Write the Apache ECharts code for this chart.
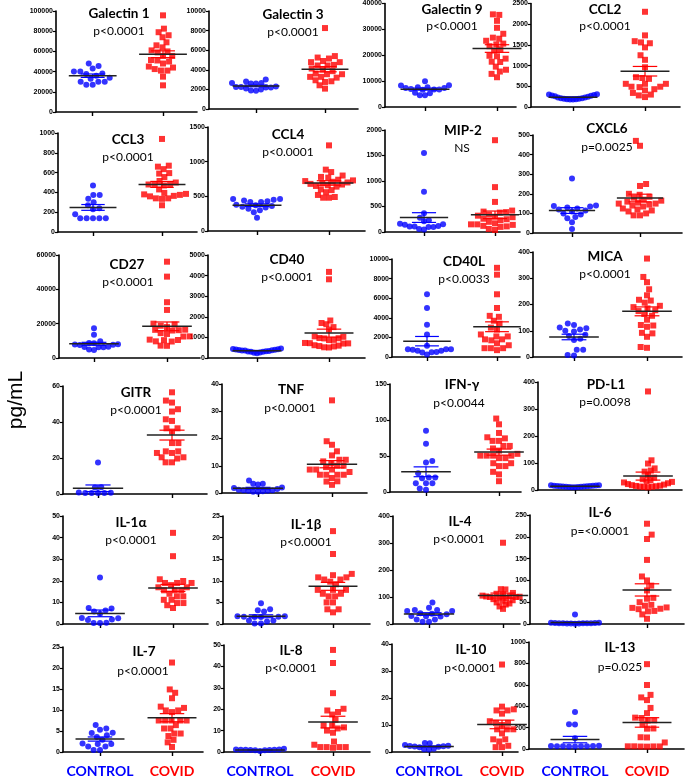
<!DOCTYPE html>
<html><head><meta charset="utf-8">
<script src="https://cdn.jsdelivr.net/npm/echarts@6/dist/echarts.min.js"></script>
<style>html,body{margin:0;padding:0;background:#fff}#c{width:685px;height:778px}</style>
</head><body><div id="c"></div>
<script>
const panelNames = ['Galectin 1','Galectin 3','Galectin 9','CCL2','CCL3','CCL4','MIP-2','CXCL6','CD27','CD40','CD40L','MICA','GITR','TNF','IFN-\u03b3','PD-L1','IL-1\u03b1','IL-1\u03b2','IL-4','IL-6','IL-7','IL-8','IL-10','IL-13'];
const pTexts = ['p<0.0001','p<0.0001','p<0.0001','p<0.0001','p<0.0001','p<0.0001','NS','p=0.0025','p<0.0001','p<0.0001','p<0.0033','p<0.0001','p<0.0001','p<0.0001','p<0.0044','p=0.0098','p<0.0001','p<0.0001','p<0.0001','p=<0.0001','p<0.0001','p<0.0001','p<0.0001','p=0.025'];
const yMaxes = [100000,10000,40000,2500,1000,1500,2000,500,60000,5000,10000,400,60,40,150,400,50,25,400,250,25,50,40,1000];
const yIntervals = [20000,2000,10000,500,200,500,500,100,20000,1000,2000,100,20,10,50,100,10,5,100,50,5,10,10,200];
const categories = ['CONTROL','COVID'];

const gal1Ctrl = [48000,45500,43000,40000,40000,37600,38000,36000,34000,33000,30000,30000,30000,27000,27000];
const gal1Covid = [95700,82500,79000,76000,74000,69000,66000,64000,59000,61000,55500,55500,51000,51500,50000,48000,45000,44000,42500,41000,41000,35000,26400,60000];
const gal3Ctrl = [3000,2650,2600,2600,2650,2800,2300,2200,2200,2250,2250,2000,1900,1850,2100];
const gal3Covid = [8260,5400,5150,5250,4900,4780,4780,4440,4440,4500,4130,4030,3860,3550,3550,3620,3280,3200,3280,2930,2830,2760,2420,2080];
const gal9Ctrl = [10000,8300,8400,7600,7300,7600,7300,7000,6800,6800,6700,5500,5300,4500,4500];
const gal9Covid = [35800,35600,33300,30600,28300,26800,26400,25600,24500,24200,23500,22300,21800,19800,19600,18700,17500,17400,15600,14400,13700,12800,11500];
const ccl2Ctrl = [310,290,270,250,230,210,200,190,180,180,190,200,210,230,260,280,300];
const ccl2Covid = [2300,1730,1590,1560,1540,1440,1250,1140,960,720,700,680,560,560,560,490,490,480,430,400,340,300,280,240];
const ccl3Ctrl = [470,375,375,335,300,270,240,230,180,140,140,140,140,140];
const ccl3Covid = [940,670,660,635,595,590,555,515,500,480,475,475,470,430,395,385,380,375,365,360,340,340,335,270];
const ccl4Ctrl = [460,460,450,440,430,420,420,380,370,360,350,340,320,300,270,190];
const ccl4Covid = [1235,885,850,800,780,770,740,730,720,710,700,690,680,670,660,650,640,600,590,560,520,490,480,480];
const mip2Ctrl = [1550,790,370,280,230,210,160,150,140,120,110,110,100,100,60,50];
const mip2Covid = [1800,880,590,420,400,390,380,340,320,300,290,260,250,230,200,170,150,150,140,120,110,100,60,40];
const cxcl6Ctrl = [278,140,138,135,130,125,120,115,110,100,95,82,75,55,20];
const cxcl6Covid = [470,445,250,240,200,195,185,180,170,165,160,155,150,150,145,140,135,125,120,115,110,100,90,90];
const cd27Ctrl = [17400,13500,9700,8800,8600,8000,7800,7700,7600,6500,6400,6300,6200,5000,4700];
const cd27Covid = [56100,47400,32500,28000,20000,19500,18800,18000,16500,16400,16200,16000,14500,14000,12600,12500,10700,10500,10400,9700,9600,7200,7100];
const cd40Ctrl = [460,430,400,380,360,340,320,300,260,230,270,300,330,360,390,410,440];
const cd40Covid = [4180,3820,1820,1700,1640,1500,1380,1050,1030,970,960,950,880,870,730,720,710,700,620,600,580,560,520,510];
const cd40lCtrl = [6400,5000,3300,2300,1150,800,800,780,750,650,630,500,480,450,250];
const cd40lCovid = [9100,8400,6400,5000,4200,4100,3700,3400,3000,2800,2300,2100,2100,1800,1800,1700,1400,1200,900,900,900,700];
const micaCtrl = [128,122,112,110,105,100,97,85,80,70,65,28,28,8,6];
const micaCovid = [375,305,285,258,235,218,215,207,195,190,185,178,175,164,157,142,122,120,115,92,90,77,38,35];
const gitrCtrl = [17.5,3.8,3.6,0.8,0.6,0.5,0.5,0.7,0.6];
const gitrCovid = [56.5,50.8,51.9,47.1,45.8,40.6,41.5,36.5,36.5,34.7,28.3,28.3,23.7,23.7,22.8,22.8,20.4,20.4,19.7,17.6,17.6];
const tnfCtrl = [4.6,3.4,3.4,3.1,2.0,1.8,1.5,1.2,1.0,1.0,0.8,0.8,0.6,0.5,0.5];
const tnfCovid = [34.0,19.0,17.7,15.3,13.8,12.2,12.2,11.6,11.0,10.0,10.0,9.5,8.6,8.6,8.6,7.7,6.7,6.7,6.7,6.7,5.5,4.3,4.2,3.0];
const ifngCtrl = [85,67,43,41,26,20,20,19,12,12,12,5,3];
const ifngCovid = [102,94,82,76,74.5,71,71,64,64,60.5,57.5,53,50.5,50.5,50.5,50.5,47,47,40,40,36,36,28,24.5,15];
const pdl1Ctrl = [18,17,16,15,14,13,12,11,10,10,11,12,13,14,15,16,18];
const pdl1Covid = [365,110,98,80,72,68,55,46,40,36,32,30,28,25,22,20,18,16,15,14,13,12,11,10];
const il1aCtrl = [21.5,7.4,7.2,6.2,5.8,4.7,2.8,2.7,2.1,1.9,0.6,0.5,0.5];
const il1aCovid = [42.2,31.4,20.7,19.9,19,19,19,18,17,17,15.6,15.6,15.6,14,12.8,12.8,11.2,11.2,9.7,9.7,8.7,7.4];
const il1bCtrl = [4.8,3.4,3.2,2.9,1.8,1.8,1.7,1.7,1.6,1.6,0.8,0.8,0.6,0.1,0.1];
const il1bCovid = [21.5,16.2,11.6,11.3,10.8,10.8,10.3,10.3,9.8,9.2,7.9,7.9,7.9,7,7,6.4,6.4,5,5,3.4,3.4,2.7];
const il4Ctrl = [80,60,52,52,48,48,40,38,36,30,29,28,17,17,8,8];
const il4Covid = [301,129,128,115,112,110,108,105,104,103,102,101,100,100,98,96,92,88,86,80,76,72,65,56];
const il6Ctrl = [22,3,3,2.5,2.5,2,2,2,1.5,1.5,1,1,1,0.8];
const il6Covid = [230,205,195,147,109,100,88,77,60,58,50,44,42,38,37,35,34,30,29,22,12];
const il7Ctrl = [6.4,5.6,5.3,4.6,4.5,4.0,3.6,2.9,2.0,1.9,1.9,1.3,1.3,0.5,0.5];
const il7Covid = [21.3,14.9,14.1,12.8,10.8,10.5,9.9,9.9,9.5,7.5,7.5,7.5,7.5,7.5,6.4,5.6,5.6,4.4,4.4,3.8,2.9,2.3,1.2];
const il8Ctrl = [1.5,1.2,1.2,1.0,1.0,1.0,0.9,0.9,0.8,0.8,0.5];
const il8Covid = [47.7,41.6,27.5,20.2,19.4,18.7,17.5,15,12.5,12.5,11.5,11,10,9,4.9,3.4,2.3,2.3,2.3,2.3,2.0];
const il10Ctrl = [3.3,3.2,2.6,2.3,2.2,2.1,2.0,1.9,1.8,1.2,1.0,0.9];
const il10Covid = [32.4,16.8,15.8,15.4,15.4,14.2,11.4,10.8,10.8,10.0,8.4,8.4,8.4,6.9,4.7,4.7,3.9,2.3,1.8,1.8];
const il13Ctrl = [345,232,230,100,30,28,28,26,26,25,25,24,24];
const il13Covid = [793,598,506,482,457,384,335,293,290,268,265,232,192,190,110,108,61,25,25,24,24,23,22];

const controlSets = [gal1Ctrl,gal3Ctrl,gal9Ctrl,ccl2Ctrl,ccl3Ctrl,ccl4Ctrl,mip2Ctrl,cxcl6Ctrl,cd27Ctrl,cd40Ctrl,cd40lCtrl,micaCtrl,gitrCtrl,tnfCtrl,ifngCtrl,pdl1Ctrl,il1aCtrl,il1bCtrl,il4Ctrl,il6Ctrl,il7Ctrl,il8Ctrl,il10Ctrl,il13Ctrl];
const covidSets = [gal1Covid,gal3Covid,gal9Covid,ccl2Covid,ccl3Covid,ccl4Covid,mip2Covid,cxcl6Covid,cd27Covid,cd40Covid,cd40lCovid,micaCovid,gitrCovid,tnfCovid,ifngCovid,pdl1Covid,il1aCovid,il1bCovid,il4Covid,il6Covid,il7Covid,il8Covid,il10Covid,il13Covid];

// layout: [yAxisX, xAxisEndX, tick1X, tick2X, topY, zeroY]
const layout = [
 [56,197,92.7,163,11,112],[209,358,256,325,11,109],[385,516,425,497,3,107],[531,680,573,645,3,107],
 [58,197,93,162,133,232],[208,365,257,329,127,231],[385,520,424,495,130,232],[533,682,572,640,135,233],
 [59,200,94,167,255,358],[208,365,257,329,255,358],[392,520,427,497,259,357],[533,682,574,647,252,357],
 [63,207,98,172,386,494],[222,367,258,332,384,493],[390,521,426,499,384,492],[538,682,575,648,382,490],
 [63,208,100,173,516,624],[223,370,261,333,516,624],[393,520,429,503,516,624],[530,684,575,647,515,624],
 [63,203,100,172,647,754],[224,370,260,333,645,754],[392,518,429,502,644,754],[529,684,575,647,642,751]
];
// text positions: [titleX, titleY, pX, pY]
const textPos = [
 [119,14,119,31],[293,15,293,32],[452,10,452,26],[605,10,605,26],
 [128,140,128,157],[288,135,288,152],[463,131,462,148],[607,129,607,147],
 [127,265,128,282],[287,260,287,277],[464,262,464,279],[605,257,605,274],
 [136,393,136,410],[291,390,290,408],[462,385,459,403],[606,385,605,402],
 [131,523,131,540],[306,525,306,542],[460,522,459,539],[600,513,600,531],
 [144,652,143,671],[291,651,291,668],[471,650,470,668],[620,648,620,667]
];

const BLUE = '#0000ff', RED = '#ff0000';

function swarm(vals, pxY, D, W) {
  const order = vals.map((v, i) => i).sort((a, b) => vals[a] - vals[b]);
  const placed = [];
  const off = new Array(vals.length).fill(0);
  let flip = 1;
  order.forEach(i => {
    const y = vals[i] * pxY;
    const near = placed.filter(p => Math.abs(p.y - y) < D);
    const cands = [0];
    near.forEach(p => {
      const dx = Math.sqrt(D * D - (p.y - y) * (p.y - y));
      cands.push(p.x + dx, p.x - dx);
    });
    const ok = cands.filter(c => near.every(p => (p.x - c) ** 2 + (p.y - y) ** 2 >= D * D - 1e-6));
    ok.sort((a, b) => {
      const d = Math.abs(a) - Math.abs(b);
      if (Math.abs(d) > 1e-6) return d;
      return flip * (a - b);
    });
    const x = ok.length ? ok[0] : 0;
    if (Math.abs(x) > 1e-6) flip = -flip;
    placed.push({ x, y });
    off[i] = x;
  });
  const m = Math.max(...off.map(Math.abs));
  if (m > W) for (let k = 0; k < off.length; k++) off[k] *= W / m;
  return off;
}
function stats(v) {
  const n = v.length;
  const mean = v.reduce((a, b) => a + b, 0) / n;
  const sd = Math.sqrt(v.reduce((a, b) => a + (b - mean) ** 2, 0) / (n - 1));
  return [mean, sd / Math.sqrt(n)];
}

const grid = [], xAxis = [], yAxis = [], series = [], graphic = [];
const labelFont = { fontFamily: 'Lato', fontWeight: 'bold', fontSize: 14 };

panelNames.forEach((name, i) => {
  const [ax, ae, t1, t2, ty, zy] = layout[i];
  const gap = t2 - t1;
  const xmin = 1 - (t1 - ax) / gap, xmax = 2 + (ae - t2) / gap;
  grid.push({ left: ax, top: ty, width: ae - ax, height: zy - ty });
  const bottomRow = i >= 20;
  xAxis.push({
    gridIndex: i, type: 'value', min: xmin, max: xmax,
    axisLine: { show: true, onZero: false, lineStyle: { color: '#000', width: 1.6 } },
    axisTick: { show: true, customValues: [1, 2], length: 4, lineStyle: { color: '#000', width: 1.4 } },
    axisLabel: {
      show: bottomRow, customValues: [1, 2], margin: 766 - zy,
      formatter: v => (Math.round(v) === 1 ? '{a|' + categories[0] + '}' : '{b|' + categories[1] + '}'),
      rich: { a: Object.assign({ color: BLUE }, labelFont), b: Object.assign({ color: RED }, labelFont) }
    },
    splitLine: { show: false }
  });
  yAxis.push({
    gridIndex: i, type: 'value', min: 0, max: yMaxes[i], interval: yIntervals[i],
    axisLine: { show: true, lineStyle: { color: '#000', width: 1.6 } },
    axisTick: { show: true, length: 3, lineStyle: { color: '#000', width: 1.2 } },
    axisLabel: { fontSize: 7, fontWeight: 'bold', color: '#000', margin: 3, fontFamily: 'Liberation Sans', formatter: v => String(v) },
    splitLine: { show: false }
  });
  const pxY = (zy - ty) / yMaxes[i];
  const groups = [controlSets[i], covidSets[i]];
  const bars = [];
  groups.forEach((vals, g) => {
    const off = swarm(vals, pxY, 6.4, 24);
    series.push({
      type: 'scatter', xAxisIndex: i, yAxisIndex: i, z: 2,
      symbol: g === 0 ? 'circle' : 'rect', symbolSize: 6,
      itemStyle: { color: g === 0 ? BLUE : RED },
      data: vals.map((v, k) => [g + 1 + off[k] / gap, v])
    });
    const [m, se] = stats(vals);
    bars.push([g + 1, m, m - se, m + se, g]);
  });
  series.push({
    type: 'custom', xAxisIndex: i, yAxisIndex: i, z: 3, clip: false,
    data: bars,
    renderItem: (params, api) => {
      const x = api.value(0), m = api.value(1), lo = api.value(2), hi = api.value(3), g = api.value(4);
      const col = g === 0 ? BLUE : RED;
      const unit = api.size([1, 0])[0];
      const c = api.coord([x, m]), cl = api.coord([x, lo]), ch = api.coord([x, hi]);
      const cw = 0.17 * unit, mw = 0.34 * unit;
      const st = { stroke: col, lineWidth: 1.2 };
      return {
        type: 'group', children: [
          { type: 'line', shape: { x1: c[0], y1: ch[1], x2: c[0], y2: cl[1] }, style: st },
          { type: 'line', shape: { x1: c[0] - cw, y1: ch[1], x2: c[0] + cw, y2: ch[1] }, style: st },
          { type: 'line', shape: { x1: c[0] - cw, y1: cl[1], x2: c[0] + cw, y2: cl[1] }, style: st },
          { type: 'line', shape: { x1: c[0] - mw, y1: c[1], x2: c[0] + mw, y2: c[1] }, style: { stroke: '#222', lineWidth: 1.5 } }
        ]
      };
    }
  });
  const [tx, tyy, px, py] = textPos[i];
  graphic.push({ type: 'text', x: tx, y: tyy, z: 10, style: { text: name, font: 'bold 13.5px Lato', fill: '#000', align: 'center', verticalAlign: 'middle' } });
  graphic.push({ type: 'text', x: px, y: py, z: 10, style: { text: pTexts[i], font: '12px Lato', fill: '#000', align: 'center', verticalAlign: 'middle' } });
});
graphic.push({ type: 'text', x: 16, y: 400, rotation: Math.PI / 2, style: { text: 'pg/mL', font: '21px "Liberation Sans"', fill: '#000', align: 'center', verticalAlign: 'middle' } });

const chart = echarts.init(document.getElementById('c'));
chart.setOption({ animation: false, grid, xAxis, yAxis, series, graphic });
</script>
</body></html>
